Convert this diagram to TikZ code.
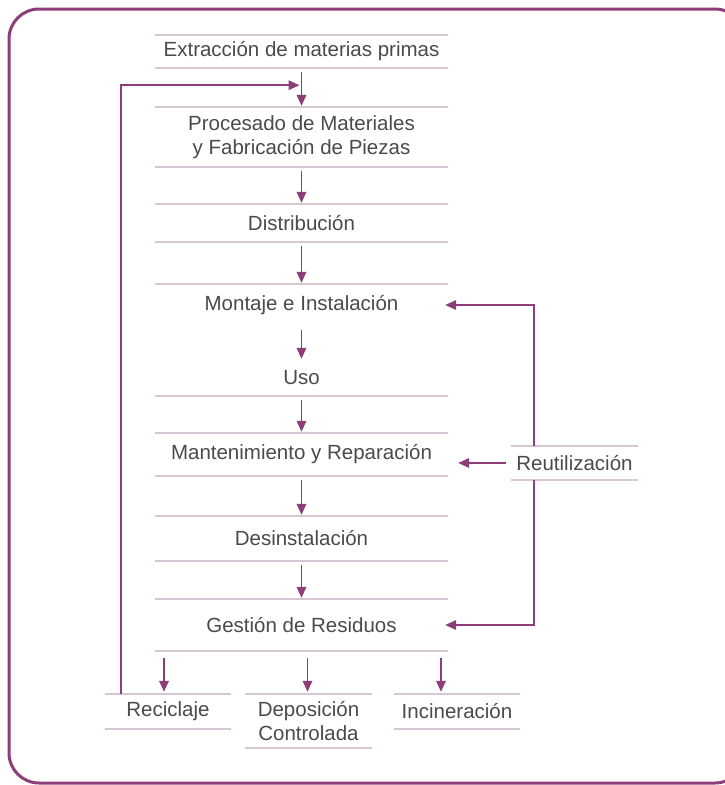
\documentclass[tikz,border=0pt]{standalone}
\usepackage{fontspec}
\setmainfont{Liberation Sans}
\usetikzlibrary{arrows.meta}
\definecolor{morado}{HTML}{8E3D78}
\definecolor{rosagris}{HTML}{D9C6D3}
\definecolor{texto}{HTML}{4A4A4A}
\tikzset{
  etapa/.style={minimum width=293, inner sep=0, align=center, text=texto,
    font=\fontsize{20.5}{24.5}\selectfont},
  fin/.style={etapa, minimum width=126},
  raya/.style={draw=rosagris, line width=1.5},
  flecha/.style={draw=morado, line width=1.9, -{Triangle[length=11,width=9.5]}},
}
\begin{document}
\begin{tikzpicture}[x=1pt, y=-1pt]
\useasboundingbox (0,0) rectangle (724,785);
\draw[morado, line width=3, rounded corners=30] (9,9) rectangle (745,783);
% etapas
\path (301.5,51.5) node[etapa, minimum height=33] (ext) {Extracción de materias primas};
\path (301.5,137) node[etapa, minimum height=60] (pro) {Procesado de Materiales\\y Fabricación de Piezas};
\path (301.5,223) node[etapa, minimum height=38] (dis) {Distribución};
\path (301.5,305) node[etapa, minimum height=42] (mon) {Montaje e Instalación};
\path (301.5,378) node[etapa, minimum height=36] (uso) {Uso};
\path (301.5,454.5) node[etapa, minimum height=43] (man) {Mantenimiento y Reparación};
\path (301.5,538.5) node[etapa, minimum height=45] (des) {Desinstalación};
\path (301.5,625) node[etapa, minimum height=52] (ges) {Gestión de Residuos};
\path (574.5,463) node[fin, minimum height=34] (reu) {Reutilización};
\path (168,711.5) node[fin, minimum height=35] (rec) {Reciclaje};
\path (308.5,721) node[fin, minimum height=54] (dep) {Deposición\\Controlada};
\path (457,711.5) node[fin, minimum height=35] (inc) {Incineración};
% rayas
\foreach \n in {ext,pro,dis,mon,man,des,ges,reu,rec,dep,inc}
  \draw[raya] (\n.north west) -- (\n.north east);
\foreach \n in {ext,pro,dis,uso,man,des,ges,reu,rec,dep,inc}
  \draw[raya] (\n.south west) -- (\n.south east);
% flechas
\foreach \a/\b in {ext/pro,pro/dis,dis/mon,mon/uso,uso/man,man/des,des/ges}
  \draw[flecha, shorten <=4, shorten >=1] (\a) -- (\b);
\path ([xshift=-4]rec.north) coordinate (r1)
      ([xshift=-1]dep.north) coordinate (r2)
      ([xshift=-16]inc.north) coordinate (r3);
\foreach \c in {r1,r2,r3}
  \draw[flecha, shorten <=7, shorten >=2] (\c |- ges.south) -- (\c);
\path (ext.south) ++(0,17) coordinate (ent);
\draw[flecha, shorten >=2] ([xshift=16]rec.north west) |- (ent);
\draw[flecha, shorten >=-3] ([xshift=23]reu.north west) |- (mon.east);
\draw[flecha, shorten >=-3] ([xshift=23]reu.south west) |- (ges.east);
\draw[flecha, shorten <=5, shorten >=10] (reu.west) -- (reu.west -| man.east);
\end{tikzpicture}
\end{document}
